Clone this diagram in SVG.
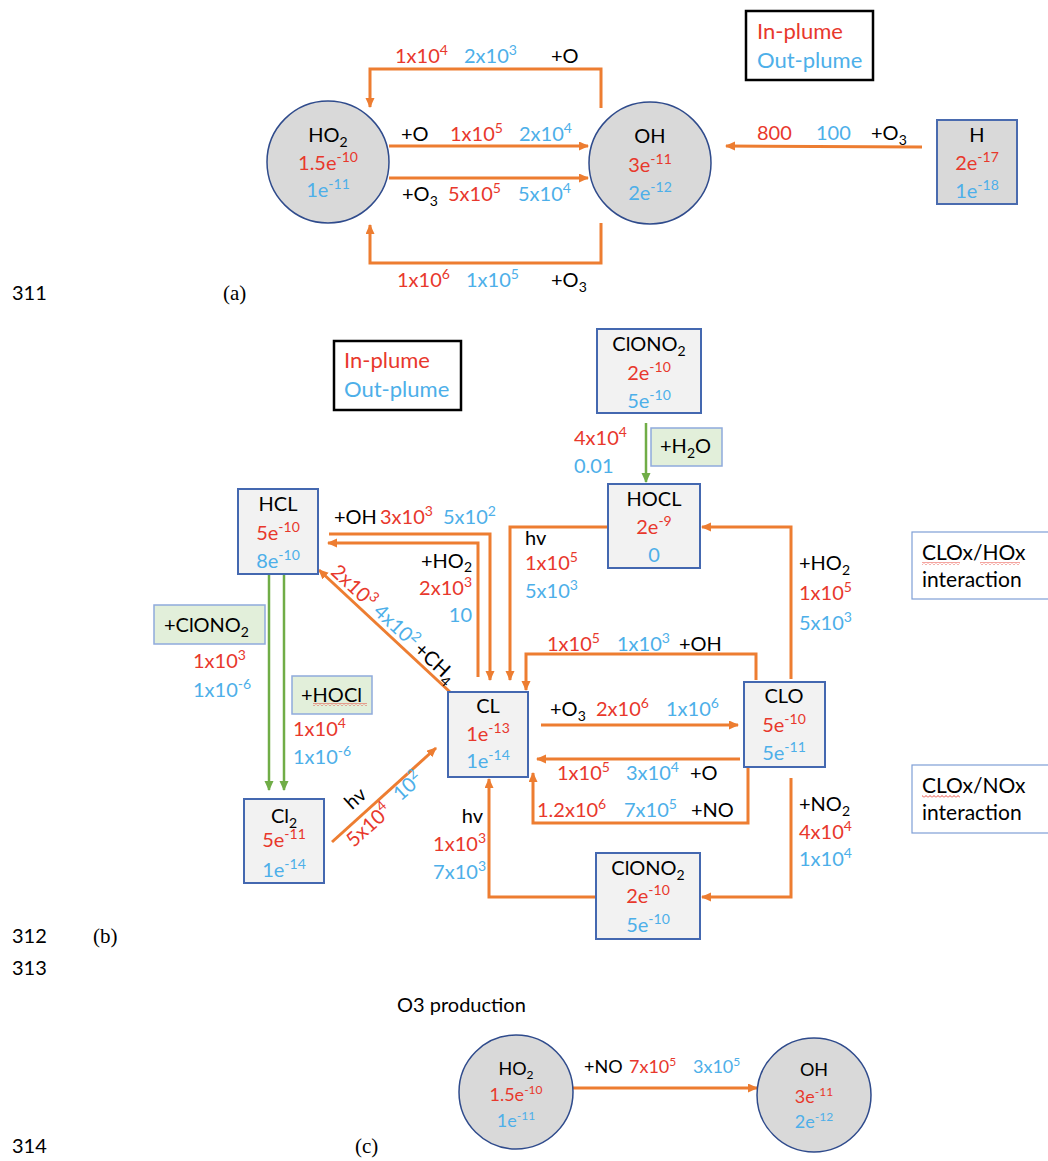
<svg xmlns="http://www.w3.org/2000/svg" width="1048" height="1161" viewBox="0 0 1048 1161">
<style>
text{font-family:Lato,"Open Sans","DejaVu Sans",sans-serif;font-size:20px;fill:#000}
.r{fill:#E8382C}.b{fill:#4DAFE9}
.s{font-size:14px}
.leg{font-size:22px}
.info{font-size:21px}
.c{font-size:18px}.c .s{font-size:12px}
.prod{font-size:20px}
.num{font-family:Lato,"Open Sans",sans-serif;font-size:20px}
.ser{font-family:"Liberation Serif","Times New Roman",serif;font-size:21px}
.circ{fill:#D9D9D9;stroke:#2F4B8C;stroke-width:1.5}
.box{fill:#F2F2F2;stroke:#4468B0;stroke-width:2}
.hbox{fill:#D9D9D9;stroke:#4A6BAF;stroke-width:2}
.gbox{fill:#E2EFDA;stroke:#8FAADC;stroke-width:1.5}
.ibox{fill:#fff;stroke:#7F9FD6;stroke-width:1.2}
.lbox{fill:#fff;stroke:#000;stroke-width:2.5}
.e{fill:none;stroke:#ED7D31;stroke-width:3;marker-end:url(#ao)}
.g{fill:none;stroke:#70AD47;stroke-width:2.5;marker-end:url(#ag)}
</style>
<defs>
<marker id="ao" markerUnits="userSpaceOnUse" markerWidth="12" markerHeight="10" refX="9" refY="4.5" orient="auto"><path d="M0,0 L10,4.5 L0,9 z" fill="#ED7D31"/></marker>
<marker id="ag" markerUnits="userSpaceOnUse" markerWidth="12" markerHeight="10" refX="9" refY="4.5" orient="auto"><path d="M0,0 L10,4.5 L0,9 z" fill="#70AD47"/></marker>
<pattern id="wavy" width="4" height="3" patternUnits="userSpaceOnUse"><path d="M0,2.5 L2,0.5 L4,2.5" fill="none" stroke="#E8382C" stroke-width="0.9"/></pattern>
</defs>

<!-- line numbers / panel labels -->
<g id="page-labels">
<text class="num" x="12" y="300">311</text>
<text class="ser" x="223" y="300">(a)</text>
<text class="num" x="12" y="943">312</text>
<text class="ser" x="93" y="943">(b)</text>
<text class="num" x="12" y="975">313</text>
<text class="num" x="12" y="1153">314</text>
<text class="ser" x="355" y="1153">(c)</text>
</g>

<!-- ===== connectors ===== -->
<g id="connectors">
<!-- (a) -->
<path class="e" d="M601,108 V69 H370 V107"/>
<path class="e" d="M389,146 H588"/>
<path class="e" d="M389,178 H588"/>
<path class="e" d="M601,223 V263 H370 V225"/>
<path class="e" d="M922,147 L726,146"/>
<!-- (b) -->
<path class="g" d="M646,423 V482"/>
<path class="g" d="M269,574 V790"/>
<path class="g" d="M284,574 V790"/>
<path class="e" d="M608,527 H510 V680"/>
<path class="e" d="M791,679 V527 H702"/>
<path class="e" d="M329,534 H490 V680"/>
<path class="e" d="M478,677 V543 H328"/>
<path class="e" d="M450,692 L319,570"/>
<path class="e" d="M332,842 L436,748"/>
<path class="e" d="M756,680 V654 H526 V690"/>
<path class="e" d="M541,725 H738"/>
<path class="e" d="M740,759 H537"/>
<path class="e" d="M748,767 V823 H533 V773"/>
<path class="e" d="M791,778 V897 H702"/>
<path class="e" d="M596,897 H489 V779"/>
<!-- (c) -->
<path class="e" d="M573,1088 H757"/>
</g>

<!-- ===== edge labels ===== -->
<g id="edge-labels">
<!-- (a) -->
<text class="r" x="395" y="63">1x10<tspan class="s" dy="-8">4</tspan></text>
<text class="b" x="464" y="63">2x10<tspan class="s" dy="-8">3</tspan></text>
<text x="551" y="63">+O</text>
<text x="401" y="141">+O</text>
<text class="r" x="450" y="141">1x10<tspan class="s" dy="-8">5</tspan></text>
<text class="b" x="519" y="141">2x10<tspan class="s" dy="-8">4</tspan></text>
<text x="402" y="201">+O<tspan class="s" dy="5">3</tspan></text>
<text class="r" x="448" y="201">5x10<tspan class="s" dy="-8">5</tspan></text>
<text class="b" x="518" y="201">5x10<tspan class="s" dy="-8">4</tspan></text>
<text class="r" x="397" y="287">1x10<tspan class="s" dy="-8">6</tspan></text>
<text class="b" x="466" y="287">1x10<tspan class="s" dy="-8">5</tspan></text>
<text x="551" y="287">+O<tspan class="s" dy="5">3</tspan></text>
<text class="r" x="757" y="140">800</text>
<text class="b" x="816" y="140">100</text>
<text x="871" y="140">+O<tspan class="s" dy="5">3</tspan></text>
<!-- (b) -->
<text class="r" x="574" y="445">4x10<tspan class="s" dy="-8">4</tspan></text>
<text class="b" x="574" y="473">0.01</text>
<text x="525" y="545">hv</text>
<text class="r" x="525" y="570">1x10<tspan class="s" dy="-8">5</tspan></text>
<text class="b" x="525" y="598">5x10<tspan class="s" dy="-8">3</tspan></text>
<text x="799" y="570">+HO<tspan class="s" dy="5">2</tspan></text>
<text class="r" x="799" y="600">1x10<tspan class="s" dy="-8">5</tspan></text>
<text class="b" x="799" y="630">5x10<tspan class="s" dy="-8">3</tspan></text>
<text x="334" y="524">+OH</text>
<text class="r" x="380" y="524">3x10<tspan class="s" dy="-8">3</tspan></text>
<text class="b" x="443" y="524">5x10<tspan class="s" dy="-8">2</tspan></text>
<text x="472" y="568" text-anchor="end">+HO<tspan class="s" dy="4">2</tspan></text>
<text class="r" x="472" y="595" text-anchor="end">2x10<tspan class="s" dy="-8">3</tspan></text>
<text class="b" x="472" y="622" text-anchor="end">10</text>
<text class="r" x="193" y="668">1x10<tspan class="s" dy="-8">3</tspan></text>
<text class="b" x="193" y="697">1x10<tspan class="s" dy="-8">-6</tspan></text>
<text class="r" x="293" y="736">1x10<tspan class="s" dy="-8">4</tspan></text>
<text class="b" x="293" y="764">1x10<tspan class="s" dy="-8">-6</tspan></text>
<g transform="translate(319,570) rotate(43)">
<text class="r" x="10" y="-5">2x10<tspan class="s" dy="-8">3</tspan></text>
<text class="b" x="68" y="-5">4x10<tspan class="s" dy="-8">2</tspan></text>
<text x="124" y="-5">+CH<tspan class="s" dy="5">4</tspan></text>
</g>
<g transform="translate(332,842) rotate(-42)">
<text x="36" y="-10">hv</text>
<text class="r" x="12" y="19">5x10<tspan class="s" dy="-8">4</tspan></text>
<text class="b" x="78" y="16">10<tspan class="s" dy="-8">2</tspan></text>
</g>
<text class="r" x="547" y="651">1x10<tspan class="s" dy="-8">5</tspan></text>
<text class="b" x="617" y="651">1x10<tspan class="s" dy="-8">3</tspan></text>
<text x="679" y="651">+OH</text>
<text x="550" y="716">+O<tspan class="s" dy="5">3</tspan></text>
<text class="r" x="596" y="716">2x10<tspan class="s" dy="-8">6</tspan></text>
<text class="b" x="666" y="716">1x10<tspan class="s" dy="-8">6</tspan></text>
<text class="r" x="557" y="780">1x10<tspan class="s" dy="-8">5</tspan></text>
<text class="b" x="626" y="780">3x10<tspan class="s" dy="-8">4</tspan></text>
<text x="690" y="780">+O</text>
<text class="r" x="537" y="817">1.2x10<tspan class="s" dy="-8">6</tspan></text>
<text class="b" x="624" y="817">7x10<tspan class="s" dy="-8">5</tspan></text>
<text x="691" y="817">+NO</text>
<text x="799" y="811">+NO<tspan class="s" dy="5">2</tspan></text>
<text class="r" x="799" y="839">4x10<tspan class="s" dy="-8">4</tspan></text>
<text class="b" x="799" y="866">1x10<tspan class="s" dy="-8">4</tspan></text>
<text x="483" y="823" text-anchor="end">hv</text>
<text class="r" x="486" y="851" text-anchor="end">1x10<tspan class="s" dy="-8">3</tspan></text>
<text class="b" x="486" y="879" text-anchor="end">7x10<tspan class="s" dy="-8">3</tspan></text>
<!-- (c) -->
<text class="prod" x="397" y="1012">O3 production</text>
<text class="c" x="584" y="1073">+NO</text>
<text class="c r" x="629" y="1073">7x10<tspan class="s" dy="-7">5</tspan></text>
<text class="c b" x="693" y="1073">3x10<tspan class="s" dy="-7">5</tspan></text>
</g>

<!-- ===== (a) nodes ===== -->
<g id="legend-a">
<rect class="lbox" x="746" y="11" width="127" height="69"/>
<text class="leg r" x="757" y="39">In-plume</text>
<text class="leg b" x="757" y="68">Out-plume</text>
</g>
<g id="a-HO2">
<circle class="circ" cx="328" cy="162" r="61"/>
<text x="328" y="142" text-anchor="middle">HO<tspan class="s" dy="5">2</tspan></text>
<text class="r" x="328" y="170" text-anchor="middle">1.5e<tspan class="s" dy="-8">-10</tspan></text>
<text class="b" x="328" y="197" text-anchor="middle">1e<tspan class="s" dy="-8">-11</tspan></text>
</g>
<g id="a-OH">
<circle class="circ" cx="650" cy="163" r="61"/>
<text x="650" y="143" text-anchor="middle">OH</text>
<text class="r" x="650" y="172" text-anchor="middle">3e<tspan class="s" dy="-8">-11</tspan></text>
<text class="b" x="650" y="200" text-anchor="middle">2e<tspan class="s" dy="-8">-12</tspan></text>
</g>
<g id="a-H">
<rect class="hbox" x="937" y="120" width="80" height="84"/>
<text x="977" y="142" text-anchor="middle">H</text>
<text class="r" x="977" y="170" text-anchor="middle">2e<tspan class="s" dy="-8">-17</tspan></text>
<text class="b" x="977" y="198" text-anchor="middle">1e<tspan class="s" dy="-8">-18</tspan></text>
</g>

<!-- ===== (b) nodes ===== -->
<g id="legend-b">
<rect class="lbox" x="334" y="341" width="127" height="69"/>
<text class="leg r" x="344" y="368">In-plume</text>
<text class="leg b" x="344" y="397">Out-plume</text>
</g>
<g id="b-ClONO2-top">
<rect class="box" x="597" y="329" width="104" height="84"/>
<text x="649" y="351" text-anchor="middle">ClONO<tspan class="s" dy="5">2</tspan></text>
<text class="r" x="649" y="380" text-anchor="middle">2e<tspan class="s" dy="-8">-10</tspan></text>
<text class="b" x="649" y="408" text-anchor="middle">5e<tspan class="s" dy="-8">-10</tspan></text>
</g>
<g id="b-H2O">
<rect class="gbox" x="651" y="428" width="71" height="38"/>
<text x="660" y="453">+H<tspan class="s" dy="5">2</tspan><tspan dy="-5">O</tspan></text>
</g>
<g id="b-HOCL">
<rect class="box" x="608" y="484" width="92" height="84"/>
<text x="654" y="506" text-anchor="middle">HOCL</text>
<text class="r" x="654" y="534" text-anchor="middle">2e<tspan class="s" dy="-8">-9</tspan></text>
<text class="b" x="654" y="562" text-anchor="middle">0</text>
</g>
<g id="b-HCL">
<rect class="box" x="238" y="489" width="80" height="85"/>
<text x="278" y="511" text-anchor="middle">HCL</text>
<text class="r" x="278" y="540" text-anchor="middle">5e<tspan class="s" dy="-8">-10</tspan></text>
<text class="b" x="278" y="568" text-anchor="middle">8e<tspan class="s" dy="-8">-10</tspan></text>
</g>
<g id="b-ClONO2-reagent">
<rect class="gbox" x="154" y="605" width="111" height="39"/>
<text x="164" y="632">+ClONO<tspan class="s" dy="5">2</tspan></text>
</g>
<g id="b-HOCl-reagent">
<rect class="gbox" x="292" y="676" width="80" height="38"/>
<text x="301" y="702">+HOCl</text>
<rect x="313" y="703" width="54" height="3" fill="url(#wavy)"/>
</g>
<g id="b-Cl2">
<rect class="box" x="244" y="799" width="80" height="84"/>
<text x="284" y="823" text-anchor="middle">Cl<tspan class="s" dy="5">2</tspan></text>
<text class="r" x="284" y="847" text-anchor="middle">5e<tspan class="s" dy="-8">-11</tspan></text>
<text class="b" x="284" y="877" text-anchor="middle">1e<tspan class="s" dy="-8">-14</tspan></text>
</g>
<g id="b-CL">
<rect class="box" x="448" y="692" width="80" height="85"/>
<text x="488" y="713" text-anchor="middle">CL</text>
<text class="r" x="488" y="741" text-anchor="middle">1e<tspan class="s" dy="-8">-13</tspan></text>
<text class="b" x="488" y="768" text-anchor="middle">1e<tspan class="s" dy="-8">-14</tspan></text>
</g>
<g id="b-CLO">
<rect class="box" x="744" y="682" width="81" height="85"/>
<text x="784" y="703" text-anchor="middle">CLO</text>
<text class="r" x="784" y="732" text-anchor="middle">5e<tspan class="s" dy="-8">-10</tspan></text>
<text class="b" x="784" y="760" text-anchor="middle">5e<tspan class="s" dy="-8">-11</tspan></text>
</g>
<g id="b-ClONO2-bottom">
<rect class="box" x="596" y="853" width="104" height="86"/>
<text x="648" y="875" text-anchor="middle">ClONO<tspan class="s" dy="5">2</tspan></text>
<text class="r" x="648" y="903" text-anchor="middle">2e<tspan class="s" dy="-8">-10</tspan></text>
<text class="b" x="648" y="932" text-anchor="middle">5e<tspan class="s" dy="-8">-10</tspan></text>
</g>
<g id="b-CLOx-HOx">
<rect class="ibox" x="912" y="532" width="140" height="67"/>
<text class="info" x="922" y="560">CLOx/HOx</text>
<text class="info" x="922" y="587">interaction</text>
<rect x="922" y="562" width="38" height="3" fill="url(#wavy)"/>
<rect x="980" y="562" width="40" height="3" fill="url(#wavy)"/>
</g>
<g id="b-CLOx-NOx">
<rect class="ibox" x="912" y="765" width="140" height="68"/>
<text class="info" x="922" y="793">CLOx/NOx</text>
<text class="info" x="922" y="820">interaction</text>
<rect x="922" y="795" width="38" height="3" fill="url(#wavy)"/>
</g>

<!-- ===== (c) nodes ===== -->
<g id="c-HO2">
<circle class="circ" cx="516" cy="1092" r="57"/>
<text class="c" x="516" y="1075" text-anchor="middle">HO<tspan class="s" dy="4">2</tspan></text>
<text class="c r" x="516" y="1101" text-anchor="middle">1.5e<tspan class="s" dy="-7">-10</tspan></text>
<text class="c b" x="516" y="1127" text-anchor="middle">1e<tspan class="s" dy="-7">-11</tspan></text>
</g>
<g id="c-OH">
<circle class="circ" cx="814" cy="1095" r="57"/>
<text class="c" x="814" y="1076" text-anchor="middle">OH</text>
<text class="c r" x="814" y="1103" text-anchor="middle">3e<tspan class="s" dy="-7">-11</tspan></text>
<text class="c b" x="814" y="1128" text-anchor="middle">2e<tspan class="s" dy="-7">-12</tspan></text>
</g>
</svg>
